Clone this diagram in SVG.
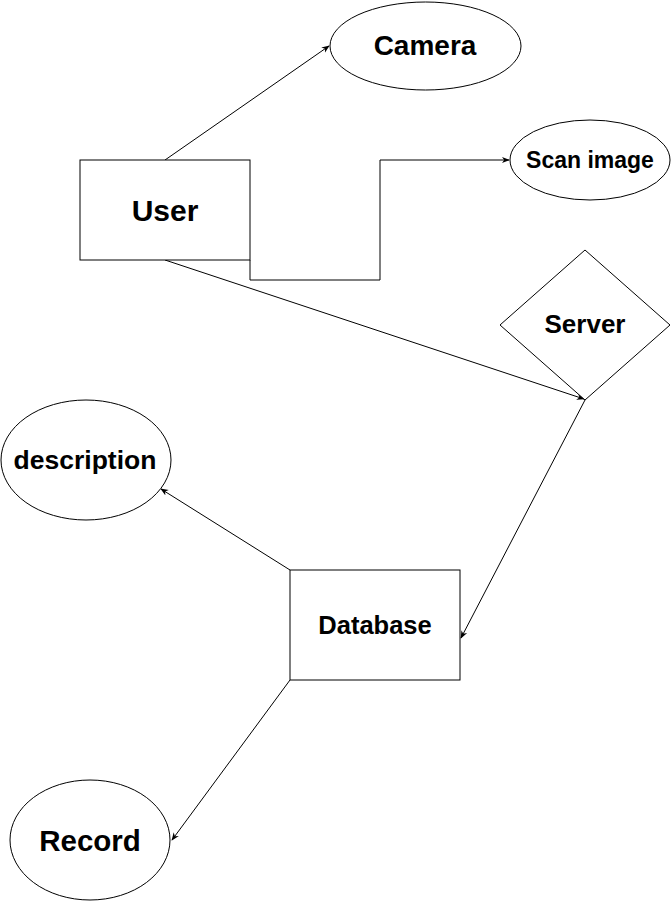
<svg xmlns="http://www.w3.org/2000/svg" width="671" height="901" viewBox="0 0 671 901">
<style>
.s{fill:#fff;stroke:#000;stroke-width:1}
.c{fill:none;stroke:#000;stroke-width:1}
.t{font-family:"Liberation Sans",Arial,sans-serif;font-weight:bold;text-anchor:middle;dominant-baseline:central;fill:#000}
</style>
<defs>
<marker id="a" viewBox="0 0 10 10" refX="9" refY="5" markerWidth="8" markerHeight="8" markerUnits="userSpaceOnUse" orient="auto">
<path d="M0,1 L10,5 L0,9 L3,5 Z" fill="#000"/>
</marker>
</defs>
<g id="connectors">
<path class="c" d="M165,160 L329,46" marker-end="url(#a)"/>
<path class="c" d="M250,260 L250,280 L380,280 L380,160 L509,160" marker-end="url(#a)"/>
<path class="c" d="M165,260 L584,399" marker-end="url(#a)"/>
<path class="c" d="M585,400 L461,638" marker-end="url(#a)"/>
<path class="c" d="M290,570 L161,489" marker-end="url(#a)"/>
<path class="c" d="M290,680 L172,840" marker-end="url(#a)"/>
</g>
<g id="camera"><ellipse class="s" cx="425.5" cy="46" rx="95.5" ry="44"/><text class="t" x="425" y="45" font-size="28">Camera</text></g>
<g id="user"><rect class="s" x="80" y="160" width="170" height="100"/><text class="t" x="165" y="210" font-size="30">User</text></g>
<g id="scan"><ellipse class="s" cx="590" cy="160" rx="80" ry="40"/><text class="t" x="590" y="160" font-size="23">Scan image</text></g>
<g id="server"><polygon class="s" points="585,250 670,325 585,400 500,325"/><text class="t" x="585" y="324" font-size="26">Server</text></g>
<g id="description"><ellipse class="s" cx="86" cy="460" rx="85" ry="60"/><text class="t" x="85" y="460" font-size="26.5">description</text></g>
<g id="database"><rect class="s" x="290" y="570" width="170" height="110"/><text class="t" x="375" y="625" font-size="25.5">Database</text></g>
<g id="record"><ellipse class="s" cx="90" cy="840" rx="80" ry="60"/><text class="t" x="90" y="840" font-size="29.5">Record</text></g>
</svg>
